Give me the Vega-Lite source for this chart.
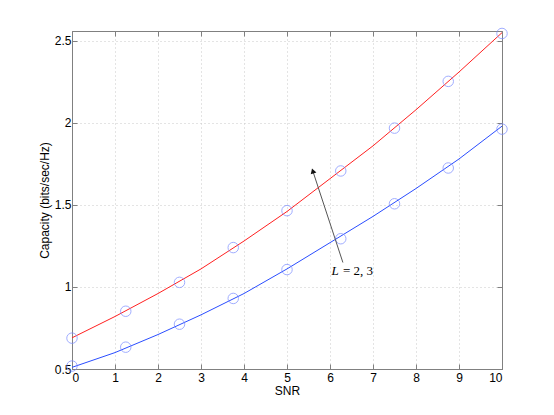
{
  "$schema": "https://vega.github.io/schema/vega-lite/v6.json",
  "width": 430,
  "height": 338,
  "autosize": "none",
  "padding": {"left": 72, "top": 31, "right": 52, "bottom": 46},
  "background": "white",
  "config": {
    "view": {"stroke": "#808080", "strokeWidth": 1},
    "axis": {
      "labelFont": "Liberation Sans", "labelFontSize": 12, "labelColor": "#000",
      "titleFont": "Liberation Sans", "titleFontSize": 12, "titleFontWeight": "normal", "titleColor": "#000",
      "domainColor": "#808080", "tickColor": "#808080", "tickSize": -5,
      "gridColor": "#c8c8c8", "gridDash": [1, 3], "gridOpacity": 1
    }
  },
  "datasets": {
    "lines": [
      {"snr": 0, "cap": 0.69, "s": "red"}, {"snr": 1, "cap": 0.82, "s": "red"}, {"snr": 2, "cap": 0.96, "s": "red"},
      {"snr": 3, "cap": 1.11, "s": "red"}, {"snr": 4, "cap": 1.28, "s": "red"}, {"snr": 5, "cap": 1.46, "s": "red"},
      {"snr": 6, "cap": 1.66, "s": "red"}, {"snr": 7, "cap": 1.86, "s": "red"}, {"snr": 8, "cap": 2.08, "s": "red"},
      {"snr": 9, "cap": 2.31, "s": "red"}, {"snr": 10, "cap": 2.55, "s": "red"},
      {"snr": 0, "cap": 0.51, "s": "blue"}, {"snr": 1, "cap": 0.60, "s": "blue"}, {"snr": 2, "cap": 0.71, "s": "blue"},
      {"snr": 3, "cap": 0.83, "s": "blue"}, {"snr": 4, "cap": 0.96, "s": "blue"}, {"snr": 5, "cap": 1.11, "s": "blue"},
      {"snr": 6, "cap": 1.27, "s": "blue"}, {"snr": 7, "cap": 1.43, "s": "blue"}, {"snr": 8, "cap": 1.60, "s": "blue"},
      {"snr": 9, "cap": 1.78, "s": "blue"}, {"snr": 10, "cap": 1.98, "s": "blue"}
    ],
    "circles": [
      {"snr": 0, "cap": 0.688}, {"snr": 1.25, "cap": 0.852}, {"snr": 2.5, "cap": 1.028}, {"snr": 3.75, "cap": 1.24},
      {"snr": 5, "cap": 1.465}, {"snr": 6.25, "cap": 1.707}, {"snr": 7.5, "cap": 1.968}, {"snr": 8.75, "cap": 2.253},
      {"snr": 10, "cap": 2.545},
      {"snr": 0, "cap": 0.518}, {"snr": 1.25, "cap": 0.633}, {"snr": 2.5, "cap": 0.773}, {"snr": 3.75, "cap": 0.93},
      {"snr": 5, "cap": 1.106}, {"snr": 6.25, "cap": 1.294}, {"snr": 7.5, "cap": 1.507}, {"snr": 8.75, "cap": 1.725},
      {"snr": 10, "cap": 1.962}
    ],
    "arrow": [
      {"x1": 6.3, "y1": 1.149, "x2": 5.6, "y2": 1.707}
    ],
    "labelL": [
      {"snr": 6.12, "cap": 1.1, "t": "L"}
    ],
    "labelR": [
      {"snr": 6.3, "cap": 1.1, "t": "= 2, 3"}
    ]
  },
  "layer": [
    {
      "data": {"name": "lines"},
      "mark": {"type": "line", "strokeWidth": 1, "clip": true},
      "encoding": {
        "x": {"field": "snr", "type": "quantitative", "scale": {"domain": [0, 10], "nice": false},
              "axis": {"title": "SNR", "values": [0,1,2,3,4,5,6,7,8,9,10], "labelPadding": 8, "titlePadding": 2, "grid": true}},
        "y": {"field": "cap", "type": "quantitative", "scale": {"domain": [0.5, 2.56], "nice": false, "zero": false},
              "axis": {"title": "Capacity (bits/sec/Hz)", "values": [0.5,1,1.5,2,2.5], "format": "~g", "labelPadding": 6, "titlePadding": 3, "grid": true}},
        "color": {"field": "s", "type": "nominal", "scale": {"domain": ["red", "blue"], "range": ["#ff2020", "#2a4dff"]}, "legend": null},
        "detail": {"field": "s"}
      }
    },
    {
      "data": {"name": "circles"},
      "mark": {"type": "point", "shape": "circle", "filled": false, "size": 110, "stroke": "#7a8cff", "strokeWidth": 1},
      "encoding": {
        "x": {"field": "snr", "type": "quantitative", "axis": {"orient": "top", "labels": false, "title": null, "grid": false, "values": [0,1,2,3,4,5,6,7,8,9,10]}},
        "y": {"field": "cap", "type": "quantitative", "axis": {"orient": "right", "labels": false, "title": null, "grid": false, "values": [0.5,1,1.5,2,2.5]}}
      }
    },
    {
      "data": {"name": "arrow"},
      "mark": {"type": "rule", "stroke": "#555555", "strokeWidth": 1},
      "encoding": {
        "x": {"field": "x1", "type": "quantitative", "axis": null},
        "y": {"field": "y1", "type": "quantitative", "axis": null},
        "x2": {"field": "x2"},
        "y2": {"field": "y2"}
      }
    },
    {
      "data": {"name": "arrow"},
      "mark": {"type": "point", "shape": "triangle-up", "filled": true, "fill": "#111111", "size": 35, "angle": 342, "opacity": 1},
      "encoding": {
        "x": {"field": "x2", "type": "quantitative", "axis": null},
        "y": {"field": "y2", "type": "quantitative", "axis": null}
      }
    },
    {
      "data": {"name": "labelL"},
      "mark": {"type": "text", "font": "Liberation Serif", "fontSize": 13, "fontStyle": "italic", "align": "center", "baseline": "middle"},
      "encoding": {
        "x": {"field": "snr", "type": "quantitative", "axis": null},
        "y": {"field": "cap", "type": "quantitative", "axis": null},
        "text": {"field": "t"}
      }
    },
    {
      "data": {"name": "labelR"},
      "mark": {"type": "text", "font": "Liberation Serif", "fontSize": 13, "align": "left", "baseline": "middle"},
      "encoding": {
        "x": {"field": "snr", "type": "quantitative", "axis": null},
        "y": {"field": "cap", "type": "quantitative", "axis": null},
        "text": {"field": "t"}
      }
    }
  ],
  "resolve": {"axis": {"x": "independent", "y": "independent"}}
}
